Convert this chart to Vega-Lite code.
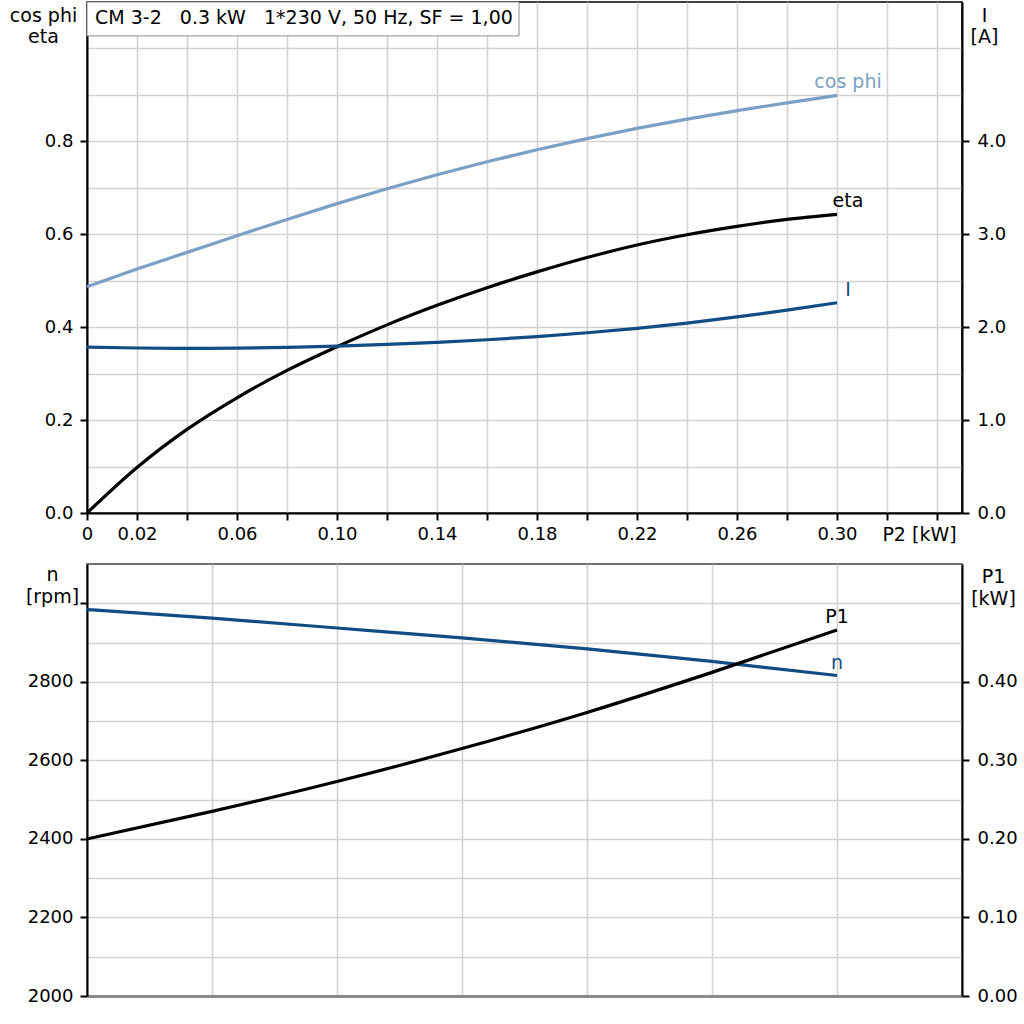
{
  "$schema": "https://vega.github.io/schema/vega-lite/v6.json",
  "padding": {"left": 8, "top": 0, "right": 0, "bottom": 0},
  "background": "white",
  "spacing": 51,
  "bounds": "flush",
  "resolve": {"scale": {"x": "independent"}},
  "config": {
    "font": "DejaVu Sans",
    "view": {"stroke": null},
    "axis": {
      "labelFont": "DejaVu Sans",
      "labelFontSize": 18,
      "labelColor": "#000000",
      "titleFont": "DejaVu Sans",
      "titleFontSize": 19,
      "titleFontWeight": "normal",
      "titleColor": "#000000",
      "tickColor": "#000000",
      "tickWidth": 2,
      "tickSize": 7,
      "domainColor": "#000000",
      "domainWidth": 2,
      "gridColor": "#d3d3d3",
      "gridWidth": 1.6,
      "labelOverlap": false,
      "labelFlush": false,
      "labelBound": false
    },
    "text": {"font": "DejaVu Sans"}
  },
  "datasets": {
    "curves": [
      {"series": "cos phi", "p2": 0, "value": 0.487},
      {"series": "cos phi", "p2": 0.02, "value": 0.525},
      {"series": "cos phi", "p2": 0.04, "value": 0.561},
      {"series": "cos phi", "p2": 0.06, "value": 0.597},
      {"series": "cos phi", "p2": 0.08, "value": 0.632},
      {"series": "cos phi", "p2": 0.1, "value": 0.666},
      {"series": "cos phi", "p2": 0.12, "value": 0.698},
      {"series": "cos phi", "p2": 0.14, "value": 0.728},
      {"series": "cos phi", "p2": 0.16, "value": 0.756},
      {"series": "cos phi", "p2": 0.18, "value": 0.782},
      {"series": "cos phi", "p2": 0.2, "value": 0.806},
      {"series": "cos phi", "p2": 0.22, "value": 0.828},
      {"series": "cos phi", "p2": 0.24, "value": 0.848},
      {"series": "cos phi", "p2": 0.26, "value": 0.866},
      {"series": "cos phi", "p2": 0.28, "value": 0.883},
      {"series": "cos phi", "p2": 0.3, "value": 0.899},
      {"series": "eta", "p2": 0, "value": 0},
      {"series": "eta", "p2": 0.02, "value": 0.098},
      {"series": "eta", "p2": 0.04, "value": 0.18},
      {"series": "eta", "p2": 0.06, "value": 0.248},
      {"series": "eta", "p2": 0.08, "value": 0.307},
      {"series": "eta", "p2": 0.1, "value": 0.358},
      {"series": "eta", "p2": 0.12, "value": 0.405},
      {"series": "eta", "p2": 0.14, "value": 0.447},
      {"series": "eta", "p2": 0.16, "value": 0.485},
      {"series": "eta", "p2": 0.18, "value": 0.519},
      {"series": "eta", "p2": 0.2, "value": 0.55},
      {"series": "eta", "p2": 0.22, "value": 0.577},
      {"series": "eta", "p2": 0.24, "value": 0.599},
      {"series": "eta", "p2": 0.26, "value": 0.617},
      {"series": "eta", "p2": 0.28, "value": 0.632},
      {"series": "eta", "p2": 0.3, "value": 0.643},
      {"series": "I", "p2": 0, "value": 1.785},
      {"series": "I", "p2": 0.02, "value": 1.776},
      {"series": "I", "p2": 0.04, "value": 1.772},
      {"series": "I", "p2": 0.06, "value": 1.774},
      {"series": "I", "p2": 0.08, "value": 1.782},
      {"series": "I", "p2": 0.1, "value": 1.796},
      {"series": "I", "p2": 0.12, "value": 1.814},
      {"series": "I", "p2": 0.14, "value": 1.837},
      {"series": "I", "p2": 0.16, "value": 1.865},
      {"series": "I", "p2": 0.18, "value": 1.899},
      {"series": "I", "p2": 0.2, "value": 1.94},
      {"series": "I", "p2": 0.22, "value": 1.988},
      {"series": "I", "p2": 0.24, "value": 2.044},
      {"series": "I", "p2": 0.26, "value": 2.11},
      {"series": "I", "p2": 0.28, "value": 2.183},
      {"series": "I", "p2": 0.3, "value": 2.263},
      {"series": "n", "p2": 0, "value": 2984},
      {"series": "n", "p2": 0.05, "value": 2962},
      {"series": "n", "p2": 0.1, "value": 2937},
      {"series": "n", "p2": 0.15, "value": 2912},
      {"series": "n", "p2": 0.2, "value": 2884},
      {"series": "n", "p2": 0.25, "value": 2852},
      {"series": "n", "p2": 0.3, "value": 2816},
      {"series": "P1", "p2": 0, "value": 0.2},
      {"series": "P1", "p2": 0.05, "value": 0.235},
      {"series": "P1", "p2": 0.1, "value": 0.273},
      {"series": "P1", "p2": 0.15, "value": 0.315},
      {"series": "P1", "p2": 0.2, "value": 0.361},
      {"series": "P1", "p2": 0.25, "value": 0.412},
      {"series": "P1", "p2": 0.3, "value": 0.466}
    ],
    "caption": [
      {"label": "CM 3-2 \u00a0 0.3 kW \u00a0 1*230 V, 50 Hz, SF = 1,00"}
    ]
  },
  "vconcat": [
    {
      "width": 875,
      "height": 511,
      "view": {"stroke": "#000000", "strokeWidth": 1.5},
      "layer": [
        {
          "layer": [
            {
              "data": {"name": "curves"},
              "transform": [{"filter": "datum.series == 'cos phi' || datum.series == 'eta'"}],
              "mark": {"type": "line", "interpolate": "monotone", "strokeWidth": 3.2},
              "encoding": {
                "x": {
                  "field": "p2",
                  "type": "quantitative",
                  "scale": {"domain": [0, 0.35], "nice": false, "zero": false},
                  "axis": {
                    "values": [0, 0.02, 0.04, 0.06, 0.08, 0.1, 0.12, 0.14, 0.16, 0.18, 0.2, 0.22, 0.24, 0.26, 0.28, 0.3, 0.32, 0.34],
                    "labelExpr": "datum.value == 0 ? '0' : ((round(datum.value * 50) % 2 == 1 && datum.value < 0.31) ? format(datum.value, '.2f') : '')",
                    "grid": true,
                    "labelPadding": 5,
                    "title": "P2 [kW]",
                    "titleX": 832,
                    "titleY": 27,
                    "titleAlign": "center",
                    "titleBaseline": "alphabetic",
                    "titleAngle": 0
                  }
                },
                "y": {
                  "field": "value",
                  "type": "quantitative",
                  "scale": {"domain": [0, 1.1], "nice": false, "zero": false},
                  "axis": {
                    "orient": "left",
                    "values": [0, 0.1, 0.2, 0.3, 0.4, 0.5, 0.6, 0.7, 0.8, 0.9, 1.0],
                    "labelExpr": "(datum.value < 0.85 && round(datum.value * 10) % 2 == 0) ? format(datum.value, '.1f') : ''",
                    "tickOpacity": {"condition": {"test": "datum.value < 0.85 && round(datum.value * 10) % 2 == 0", "value": 1}, "value": 0},
                    "grid": true,
                    "labelPadding": 7,
                    "title": ["cos phi", "eta"],
                    "titleAngle": 0,
                    "titleAlign": "center",
                    "titleBaseline": "alphabetic",
                    "titleX": -44,
                    "titleY": 19,
                    "titleLineHeight": 21
                  }
                },
                "color": {
                  "field": "series",
                  "type": "nominal",
                  "scale": {"domain": ["cos phi", "eta", "I", "n", "P1"], "range": ["#7c9fc4", "#000000", "#124c84", "#124c84", "#000000"]},
                  "legend": null
                }
              }
            },
            {
              "data": {"name": "curves"},
              "transform": [{"filter": "(datum.series == 'cos phi' || datum.series == 'eta') && datum.p2 == 0.3"}],
              "mark": {"type": "text", "align": "center", "baseline": "alphabetic", "dx": 11, "dy": -7, "fontSize": 19},
              "encoding": {
                "x": {"field": "p2", "type": "quantitative", "scale": {"domain": [0, 0.35], "nice": false, "zero": false}},
                "y": {"field": "value", "type": "quantitative", "scale": {"domain": [0, 1.1], "nice": false, "zero": false}},
                "text": {"field": "series"},
                "color": {
                  "field": "series",
                  "type": "nominal",
                  "scale": {"domain": ["cos phi", "eta", "I", "n", "P1"], "range": ["#7c9fc4", "#000000", "#124c84", "#124c84", "#000000"]},
                  "legend": null
                }
              }
            },
            {
              "data": {"name": "caption"},
              "mark": {"type": "rect", "fill": "#ffffff", "stroke": "#8c8c8c", "strokeWidth": 1},
              "encoding": {
                "x": {"datum": 0, "type": "quantitative"},
                "x2": {"datum": 0.1728},
                "y": {"datum": 1.1, "type": "quantitative"},
                "y2": {"datum": 1.027}
              }
            },
            {
              "data": {"name": "caption"},
              "mark": {"type": "text", "align": "left", "baseline": "alphabetic", "fontSize": 19, "color": "#000000"},
              "encoding": {
                "x": {"datum": 0.0032, "type": "quantitative"},
                "y": {"datum": 1.0518, "type": "quantitative"},
                "text": {"field": "label"}
              }
            }
          ]
        },
        {
          "data": {"name": "curves"},
          "transform": [{"filter": "datum.series == 'I'"}],
          "encoding": {
            "x": {"field": "p2", "type": "quantitative", "scale": {"domain": [0, 0.35], "nice": false, "zero": false}},
            "y": {
              "field": "value",
              "type": "quantitative",
              "scale": {"domain": [0, 5.5], "nice": false, "zero": false},
              "axis": {
                "orient": "right",
                "values": [0, 1, 2, 3, 4],
                "format": ".1f",
                "grid": false,
                "labelPadding": 8,
                "title": ["I", "[A]"],
                "titleAngle": 0,
                "titleAlign": "center",
                "titleBaseline": "alphabetic",
                "titleX": 22,
                "titleY": 19,
                "titleLineHeight": 21
              }
            },
            "color": {
              "field": "series",
              "type": "nominal",
              "scale": {"domain": ["cos phi", "eta", "I", "n", "P1"], "range": ["#7c9fc4", "#000000", "#124c84", "#124c84", "#000000"]},
              "legend": null
            }
          },
          "layer": [
            {"mark": {"type": "line", "interpolate": "monotone", "strokeWidth": 3.2}},
            {
              "transform": [{"filter": "datum.p2 == 0.3"}],
              "mark": {"type": "text", "align": "center", "baseline": "alphabetic", "dx": 11, "dy": -7, "fontSize": 19},
              "encoding": {"text": {"field": "series"}}
            }
          ]
        }
      ],
      "resolve": {"scale": {"y": "independent"}}
    },
    {
      "width": 875,
      "height": 432,
      "view": {"stroke": "#707070", "strokeWidth": 2},
      "encoding": {
        "x": {
          "field": "p2",
          "type": "quantitative",
          "scale": {"domain": [0, 0.35], "nice": false, "zero": false},
          "axis": {
            "values": [0, 0.05, 0.1, 0.15, 0.2, 0.25, 0.3, 0.35],
            "labels": false,
            "ticks": false,
            "grid": true,
            "domainColor": "#8a8a8a",
            "domainWidth": 3,
            "title": null
          }
        },
        "color": {
          "field": "series",
          "type": "nominal",
          "scale": {"domain": ["cos phi", "eta", "I", "n", "P1"], "range": ["#7c9fc4", "#000000", "#124c84", "#124c84", "#000000"]},
          "legend": null
        }
      },
      "layer": [
        {
          "data": {"name": "curves"},
          "transform": [{"filter": "datum.series == 'n'"}],
          "encoding": {
            "y": {
              "field": "value",
              "type": "quantitative",
              "scale": {"domain": [2000, 3100], "nice": false, "zero": false},
              "axis": {
                "orient": "left",
                "values": [2000, 2100, 2200, 2300, 2400, 2500, 2600, 2700, 2800, 2900, 3000],
                "labelExpr": "(datum.value <= 2800 && datum.value % 200 == 0) ? format(datum.value, 'd') : ''",
                "tickOpacity": {"condition": {"test": "datum.value % 200 == 0", "value": 1}, "value": 0},
                "grid": true,
                "labelPadding": 7,
                "title": ["n", "[rpm]"],
                "titleAngle": 0,
                "titleAlign": "center",
                "titleBaseline": "alphabetic",
                "titleX": -35,
                "titleY": 16,
                "titleLineHeight": 22
              }
            }
          },
          "layer": [
            {"mark": {"type": "line", "interpolate": "monotone", "strokeWidth": 3.2}},
            {
              "transform": [{"filter": "datum.p2 == 0.3"}],
              "mark": {"type": "text", "align": "center", "baseline": "alphabetic", "dx": 0, "dy": -7, "fontSize": 19},
              "encoding": {"text": {"field": "series"}}
            }
          ]
        },
        {
          "data": {"name": "curves"},
          "transform": [{"filter": "datum.series == 'P1'"}],
          "encoding": {
            "y": {
              "field": "value",
              "type": "quantitative",
              "scale": {"domain": [0, 0.55], "nice": false, "zero": false},
              "axis": {
                "orient": "right",
                "values": [0, 0.1, 0.2, 0.3, 0.4],
                "format": ".2f",
                "grid": false,
                "labelPadding": 8,
                "title": ["P1", "[kW]"],
                "titleAngle": 0,
                "titleAlign": "center",
                "titleBaseline": "alphabetic",
                "titleX": 31,
                "titleY": 18,
                "titleLineHeight": 22
              }
            }
          },
          "layer": [
            {"mark": {"type": "line", "interpolate": "monotone", "strokeWidth": 3.2}},
            {
              "transform": [{"filter": "datum.p2 == 0.3"}],
              "mark": {"type": "text", "align": "center", "baseline": "alphabetic", "dx": 0, "dy": -7, "fontSize": 19},
              "encoding": {"text": {"field": "series"}}
            }
          ]
        }
      ],
      "resolve": {"scale": {"y": "independent"}}
    }
  ]
}
